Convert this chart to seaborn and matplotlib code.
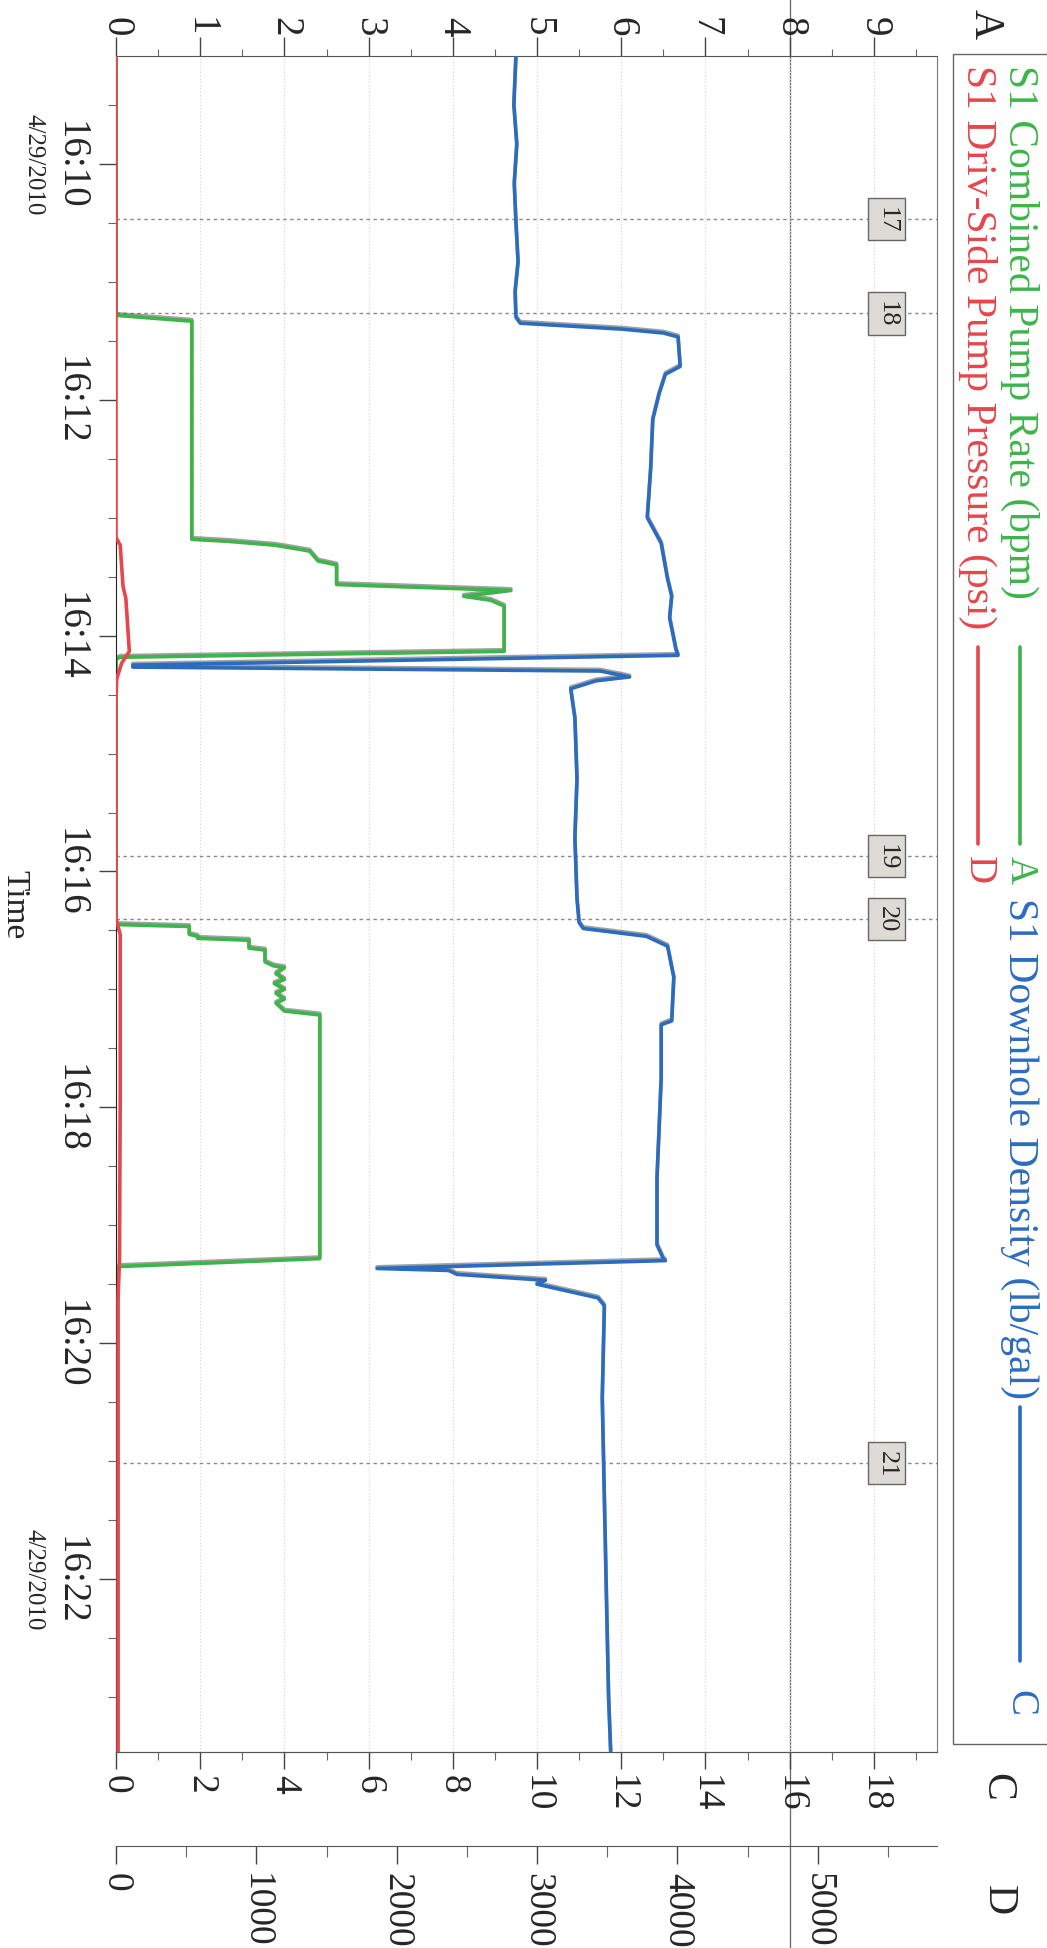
import pandas as pd
import matplotlib
matplotlib.use('Agg')
import matplotlib.pyplot as plt
import matplotlib.dates as mdates
import matplotlib.ticker as mticker
import matplotlib.patheffects as pe
from matplotlib.patches import Rectangle
from matplotlib.lines import Line2D
import seaborn as sns

DAY = '2010-04-29 '

# S1 Downhole Density (lb/gal) -> axis C
density_time = ['16:09:05', '16:09:30', '16:09:50', '16:10:10', '16:10:30', '16:10:50', '16:11:05',
                '16:11:18', '16:11:21', '16:11:24', '16:11:26', '16:11:28', '16:11:43', '16:11:47',
                '16:11:57', '16:12:10', '16:12:35', '16:13:00', '16:13:13', '16:13:31', '16:13:40',
                '16:13:51', '16:14:07', '16:14:10', '16:14:15', '16:14:16', '16:14:18', '16:14:21',
                '16:14:23', '16:14:27', '16:14:42', '16:15:13', '16:15:43', '16:16:14', '16:16:26',
                '16:16:29', '16:16:33', '16:16:38', '16:16:54', '16:17:16', '16:17:18', '16:17:45',
                '16:18:11', '16:18:36', '16:19:10', '16:19:17', '16:19:18', '16:19:22', '16:19:23',
                '16:19:25', '16:19:28', '16:19:30', '16:19:37', '16:19:41', '16:20:28', '16:21:19',
                '16:22:10', '16:23:00', '16:23:28']
density_val = [9.50, 9.45, 9.52, 9.46, 9.50, 9.55, 9.48,
               9.50, 9.60, 12.00, 13.00, 13.35, 13.40, 13.05,
               12.90, 12.75, 12.70, 12.62, 12.95, 13.10, 13.20,
               13.15, 13.30, 13.35, 0.40, 0.40, 11.50, 12.20,
               11.40, 10.80, 10.90, 10.95, 10.90, 10.95, 11.00,
               11.10, 12.60, 13.10, 13.25, 13.20, 12.95, 12.95,
               12.90, 12.85, 12.85, 13.00, 13.05, 6.20, 7.90,
               8.10, 10.20, 10.00, 11.45, 11.60, 11.55, 11.60,
               11.65, 11.70, 11.75]

# S1 Combined Pump Rate (bpm) -> axis A
rate_time = ['16:09:05', '16:11:17', '16:11:20', '16:13:11', '16:13:12', '16:13:14', '16:13:16',
             '16:13:17', '16:13:22', '16:13:24', '16:13:34', '16:13:37', '16:13:40', '16:13:42',
             '16:13:45', '16:14:08', '16:14:11', '16:14:12', '16:16:27', '16:16:28', '16:16:32',
             '16:16:33', '16:16:34', '16:16:35', '16:16:39', '16:16:40', '16:16:46', '16:16:48',
             '16:16:49', '16:16:52', '16:16:55', '16:16:57', '16:17:00', '16:17:02', '16:17:05',
             '16:17:07', '16:17:11', '16:17:13', '16:19:17', '16:19:21', '16:19:22', '16:23:28']
rate_val = [0, 0, 0.90, 0.90, 1.33, 1.89, 2.17,
            2.30, 2.40, 2.62, 2.62, 4.69, 4.13, 4.45,
            4.61, 4.61, 0.05, 0, 0, 0.87, 0.87,
            0.97, 0.97, 1.58, 1.58, 1.77, 1.77, 1.87,
            2.00, 1.90, 2.00, 1.88, 2.00, 1.90, 2.00,
            1.90, 2.00, 2.42, 2.42, 0.05, 0, 0]

# S1 Driv-Side Pump Pressure (psi) -> axis D
pressure_time = ['16:09:05', '16:13:10', '16:13:14', '16:13:35', '16:13:41', '16:14:08', '16:14:14',
                 '16:14:22', '16:14:32', '16:16:24', '16:16:32', '16:17:55', '16:19:17', '16:19:37',
                 '16:23:28']
pressure_val = [0, 0, 30, 50, 70, 95, 40, 5, 0, 0, 30, 30, 25, 15, 15]

event_labels = ['17', '18', '19', '20', '21']
event_time = ['16:10:28', '16:11:16', '16:15:52', '16:16:24', '16:21:01']

time_start, time_end = '16:09:05', '16:23:28'
date_ticks = ['16:10', '16:22']

GREEN, BLUE, RED = '#3db54a', '#2b6cbf', '#e5474b'


def to_num(times):
    return mdates.date2num(pd.to_datetime([DAY + t for t in times]))


sns.set_style('ticks')
plt.rcParams['font.family'] = ['Liberation Serif', 'DejaVu Serif']
plt.rcParams['ytick.alignment'] = 'center'

fig = plt.figure(figsize=(10.47, 19.49), dpi=100)
ax = fig.add_axes([0.1108, 0.1006, 0.7841, 0.8702])
ax_c = ax.twiny()
ax_d = ax.twiny()

shadow = [pe.SimpleLineShadow(offset=(0, 1.2), shadow_color='#444', alpha=0.5), pe.Normal()]

rate_df = pd.DataFrame({'t': to_num(rate_time), 'v': rate_val})
dens_df = pd.DataFrame({'t': to_num(density_time), 'v': density_val})
pres_df = pd.DataFrame({'t': to_num(pressure_time), 'v': pressure_val})

sns.lineplot(data=rate_df, x='v', y='t', orient='y', sort=False, estimator=None,
             color=GREEN, lw=2.6, ax=ax, path_effects=shadow)
sns.lineplot(data=dens_df, x='v', y='t', orient='y', sort=False, estimator=None,
             color=BLUE, lw=2.6, ax=ax_c, path_effects=shadow)
sns.lineplot(data=pres_df, x='v', y='t', orient='y', sort=False, estimator=None,
             color=RED, lw=2.6, ax=ax_d)

t0, t1 = to_num([time_start, time_end])
ax.set_ylim(t1, t0)
for a in (ax, ax_c, ax_d):
    a.set_xlabel('')

# time axis (left)
ax.yaxis.set_major_locator(mdates.MinuteLocator(byminute=range(0, 60, 2)))
ax.yaxis.set_minor_locator(mdates.SecondLocator(bysecond=[0, 30]))
ax.yaxis.set_major_formatter(mdates.DateFormatter('%H:%M'))
ax.tick_params(axis='y', which='major', left=True, labelleft=True, length=12, width=1,
               color='#444', labelsize=28, labelrotation=-90, pad=8)
ax.tick_params(axis='y', which='minor', left=True, length=6, width=0.8, color='#666')
ax.set_ylabel('Time', rotation=-90, fontsize=24, ha='center', va='center')
ax.yaxis.set_label_coords(-0.124, 0.5)
for d in to_num(date_ticks):
    ax.text(-0.1, d, '4/29/2010', transform=ax.get_yaxis_transform(), rotation=-90,
            ha='center', va='center', fontsize=18)

# A axis (top)
ax.set_xlim(0, 9.75)
ax.xaxis.tick_top()
ax.xaxis.set_major_locator(mticker.MultipleLocator(1))
ax.xaxis.set_minor_locator(mticker.MultipleLocator(0.5))
ax.tick_params(axis='x', which='major', top=True, bottom=False, length=13.5, width=1,
               color='#444', labelsize=28, labelrotation=-90, pad=1)
ax.tick_params(axis='x', which='minor', top=True, bottom=False, length=5, width=0.8, color='#666')
ax.grid(axis='x', which='major', color='#d8d8d8', ls=':', lw=0.9)

# C axis (bottom)
ax_c.set_xlim(0, 19.5)
ax_c.xaxis.set_ticks_position('bottom')
ax_c.xaxis.set_major_locator(mticker.MultipleLocator(2))
ax_c.xaxis.set_minor_locator(mticker.MultipleLocator(1))
ax_c.tick_params(axis='x', which='major', length=12, width=1, color='#444', labelsize=27,
                 labelrotation=-90, pad=4)
ax_c.tick_params(axis='x', which='minor', length=6, width=0.8, color='#666')

# D axis (bottom, offset)
ax_d.set_xlim(0, 5850)
ax_d.xaxis.set_ticks_position('bottom')
ax_d.spines['bottom'].set_position(('outward', 67.7))
ax_d.xaxis.set_major_locator(mticker.MultipleLocator(1000))
ax_d.xaxis.set_minor_locator(mticker.MultipleLocator(500))
ax_d.tick_params(axis='x', which='major', length=13, width=1, color='#444', labelsize=27,
                 labelrotation=-90, pad=6)
ax_d.tick_params(axis='x', which='minor', length=8, width=0.8, color='#666')

for a in (ax_c, ax_d):
    for s in ('top', 'left', 'right'):
        a.spines[s].set_visible(False)
ax_d.spines['bottom'].set_color('#555')
ax_c.spines['bottom'].set_color('#555')
ax.spines['top'].set_color('#555')
ax.spines['left'].set_color('#222')
ax.spines['right'].set_color('#777')
ax.spines['bottom'].set_color('#555')

# event markers
for lab, t in zip(event_labels, to_num(event_time)):
    ax.axhline(t, color='#8a8a8a', ls=(0, (2.5, 2.5)), lw=1, zorder=1)
    ax.text(9.15, t, lab, rotation=-90, ha='center', va='center', fontsize=19, zorder=5,
            bbox=dict(boxstyle='square,pad=0.3', fc='#dedad6', ec='#666', lw=1))

# scanner line running through the page
ax.axvline(8, ymin=-0.12, ymax=1.04, clip_on=False, color='#666', lw=0.9, zorder=0.5)


def fx(px):
    return px / 1047


def fy(py):
    return 1 - py / 1949


# legend panel
fig.add_artist(Rectangle((fx(953), fy(1745)), fx(110), (1745 - 55) / 1949,
                         transform=fig.transFigure, fill=False, ec='#666', lw=1))
legend_rows = [
    (1020, 65, 'S1 Combined Pump Rate (bpm)', GREEN, (648, 845), 'A', 856),
    (1020, 898, 'S1 Downhole Density (lb/gal)', BLUE, (1408, 1662), 'C', 1690),
    (978, 65, 'S1 Driv-Side Pump Pressure (psi)', RED, (648, 845), 'D', 856),
]
for x, y, txt, col, (l0, l1), letter, ly in legend_rows:
    fig.text(fx(x), fy(y), txt, rotation=-90, ha='center', va='top', color=col, fontsize=30)
    fig.add_artist(Line2D([fx(x), fx(x)], [fy(l0), fy(l1)], transform=fig.transFigure,
                          color=col, lw=2.6))
    fig.text(fx(x), fy(ly), letter, rotation=-90, ha='center', va='top', color=col, fontsize=28)

# axis letters
for letter, x, y in [('A', 985, 24), ('C', 997, 1787), ('D', 998, 1900)]:
    fig.text(fx(x), fy(y), letter, rotation=-90, ha='center', va='center', fontsize=30)

fig.savefig('out.png', dpi=100)
